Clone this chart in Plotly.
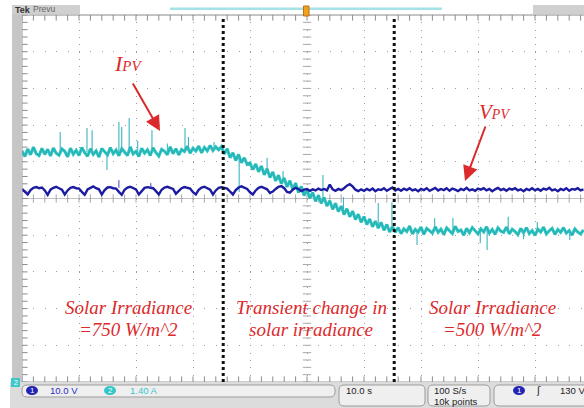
import numpy as np
import plotly.graph_objects as go

# ---------------- data ----------------
sample_dt = 0.5          # s between samples
time_per_div = 10.0      # s/div
volt_per_div = 10.0      # ch1, V/div
amp_per_div = 1.40       # ch2, A/div

# PV voltage, ch1 (V), one value every 0.5 s from t = 0 s
v_pv = [
    52.6, 51.9, 51.1, 52.3, 52.9, 53.1, 52.8, 53.0, 52.2, 51.0,
    52.4, 52.9, 53.2, 52.8, 52.4, 51.1, 52.2, 52.9, 53.1, 52.8,
    52.7, 51.8, 51.0, 52.5, 53.0, 53.3, 52.8, 52.5, 51.1, 52.3,
    53.0, 53.1, 52.8, 52.7, 51.8, 51.0, 52.4, 53.0, 53.2, 52.8,
    52.5, 51.1, 52.1, 52.9, 53.1, 52.9, 52.8, 52.0, 51.1, 52.4,
    53.0, 53.2, 52.8, 52.6, 51.3, 52.0, 52.8, 53.1, 52.9, 52.7,
    51.7, 51.1, 52.4, 53.0, 53.2, 52.8, 52.4, 51.1, 52.2, 52.9,
    53.1, 52.9, 52.7, 51.9, 51.1, 52.3, 53.0, 53.3, 52.9, 52.6,
    51.7, 51.1, 52.2, 52.9, 53.2, 52.9, 52.5, 51.5, 51.9, 52.6,
    53.2, 53.4, 52.8, 51.8, 51.6, 52.4, 52.9, 52.6, 52.0, 52.4,
    52.6, 52.1, 52.5, 52.2, 52.7, 52.3, 52.6, 52.2, 53.8, 52.5,
    52.1, 52.6, 52.3, 52.8, 53.5, 53.9, 53.3, 52.4, 52.0, 52.5,
    52.1, 52.6, 52.2, 52.7, 52.0, 52.5, 52.3, 52.8, 52.1, 52.6,
    53.0, 52.2, 52.6, 52.1, 52.7, 52.3, 52.8, 52.2, 52.5, 52.0,
    52.6, 52.3, 52.8, 52.1, 52.5, 52.9, 52.2, 52.6, 52.3, 52.8,
    52.1, 52.7, 52.4, 52.0, 52.6, 52.3, 52.9, 52.2, 52.5, 52.1,
    52.7, 52.4, 52.8, 52.2, 52.6, 52.0, 52.5, 52.9, 52.3, 52.6,
    52.1, 52.7, 52.4, 52.8, 52.2, 52.5, 52.0, 52.6, 52.3, 52.8,
    52.2, 52.6, 52.1, 52.7, 52.4, 52.9, 52.2, 52.5, 52.0, 52.6,
    52.3, 52.8, 52.1, 52.6, 52.4, 52.8, 52.2, 52.5,
]

# PV current, ch2 (A), one value every 0.5 s from t = 0 s
i_pv = [
    8.82, 8.60, 8.89, 8.67, 8.96, 8.71, 8.64, 8.91, 8.68, 8.88,
    8.62, 8.93, 8.73, 8.65, 8.89, 8.80, 8.59, 8.92, 8.69, 8.84,
    8.64, 8.95, 8.75, 8.61, 8.90, 8.68, 8.82, 8.58, 8.91, 8.79,
    8.66, 8.94, 8.71, 8.85, 8.63, 8.90, 8.77, 8.64, 8.97, 8.70,
    8.80, 8.60, 8.92, 8.73, 8.86, 8.64, 8.94, 8.75, 8.62, 8.88,
    8.80, 8.67, 8.97, 8.71, 8.90, 8.66, 8.87, 8.79, 8.99, 8.73,
    8.92, 8.81, 9.00, 8.74, 8.95, 8.82, 9.02, 8.83, 8.97, 8.86,
    8.98, 8.70, 8.90, 8.56, 8.74, 8.45, 8.68, 8.36, 8.55, 8.30,
    8.36, 8.10, 8.32, 8.02, 8.24, 7.90, 8.14, 7.80, 8.01, 7.67,
    7.89, 7.57, 7.78, 7.44, 7.68, 7.35, 7.59, 7.23, 7.46, 7.11,
    7.33, 7.01, 7.23, 6.89, 7.12, 6.82, 7.04, 6.71, 6.92, 6.59,
    6.82, 6.50, 6.71, 6.39, 6.61, 6.30, 6.52, 6.20, 6.40, 6.09,
    6.31, 6.01, 6.22, 5.92, 6.14, 5.87, 6.09, 5.79, 6.01, 5.72,
    5.92, 5.71, 5.89, 5.66, 5.84, 5.74, 5.95, 5.65, 5.82, 5.72,
    5.91, 5.63, 5.86, 5.77, 5.68, 5.92, 5.71, 5.83, 5.62, 5.88,
    5.75, 5.66, 5.94, 5.74, 5.80, 5.60, 5.86, 5.69, 5.89, 5.78,
    5.65, 5.84, 5.72, 5.92, 5.68, 5.82, 5.63, 5.88, 5.75, 5.71,
    5.91, 5.65, 5.83, 5.74, 5.62, 5.86, 5.69, 5.89, 5.66, 5.78,
    5.59, 5.83, 5.72, 5.91, 5.65, 5.77, 5.86, 5.63, 5.82, 5.71,
    5.89, 5.68, 5.78, 5.60, 5.84, 5.72, 5.65, 5.80,
]

# narrow glitches on the current trace: time (s), low (A), high (A)
i_spike_t = [6.7, 11.4, 12.3, 14.9, 17.0, 17.5, 18.8, 20.3, 22.8, 25.5,
             28.6, 29.2, 33.7, 38.1, 43.0, 45.8, 52.8, 56.4, 62.5, 64.9,
             69.3, 72.4, 75.6, 80.4, 81.6, 85.3, 88.0, 90.4, 96.1]
i_spike_lo = [8.77, 8.77, 8.77, 8.09, 8.77, 8.77, 8.77, 8.77, 8.77, 8.77,
              8.77, 8.77, 8.85, 7.25, 7.95, 7.70, 6.93, 6.55, 5.98, 5.85,
              5.23, 5.80, 5.80, 5.30, 5.04, 5.80, 5.45, 5.80, 5.42]
i_spike_hi = [9.54, 9.69, 9.60, 8.77, 9.92, 9.73, 10.07, 9.20, 9.61, 9.10,
              9.69, 9.35, 9.16, 8.55, 8.55, 8.05, 7.90, 7.05, 6.83, 6.86,
              5.80, 6.25, 6.26, 5.80, 5.80, 6.30, 5.80, 6.10, 5.80]
v_spike_t = [17.0, 22.6]
v_spike_lo = [52.9, 52.9]
v_spike_hi = [55.0, 54.2]

phase_bounds = [35.3, 65.3]   # dashed cursors (s)

region_line1 = ["Solar Irradiance", "Transient change in", "Solar Irradiance"]
region_line2 = ["=750 W/m^2", "solar irradiance", "=500 W/m^2"]

# ---------------- layout geometry (pixels) ----------------
W, H = 584, 408
L, T, B = 22, 15, 26
PW, PH = W - L, H - T - B
X_MAX = 10 * time_per_div * PW / 570.0   # screen is cropped on the right


def fx(px):
    return (px - L) / PW


def fy(py):
    return (H - B - py) / PH


t_v = np.arange(len(v_pv)) * sample_dt
t_i = np.arange(len(i_pv)) * sample_dt

fig = go.Figure()

grid_c = "#a9a9a9"
htick_x = np.arange(0, X_MAX, time_per_div / 5)
vtick_y = np.arange(0, 10 * amp_per_div + 1e-6, amp_per_div / 5)
mid_i = 5 * amp_per_div
fig.add_trace(go.Scatter(x=htick_x, y=[mid_i] * len(htick_x), mode="markers",
                         marker=dict(symbol="line-ns", size=6, line=dict(color=grid_c, width=1)),
                         hoverinfo="skip", showlegend=False, yaxis="y"))
fig.add_trace(go.Scatter(x=[50] * len(vtick_y), y=vtick_y, mode="markers",
                         marker=dict(symbol="line-ew", size=6, line=dict(color=grid_c, width=1)),
                         hoverinfo="skip", showlegend=False, yaxis="y"))
fig.add_trace(go.Scatter(x=[0] * len(vtick_y), y=vtick_y, mode="markers",
                         marker=dict(symbol="line-ew", size=8, line=dict(color="#8c8c8c", width=1)),
                         hoverinfo="skip", showlegend=False, yaxis="y"))
for yy in (0, 10 * amp_per_div):
    fig.add_trace(go.Scatter(x=htick_x, y=[yy] * len(htick_x), mode="markers",
                             marker=dict(symbol="line-ns", size=8, line=dict(color="#8c8c8c", width=1)),
                             hoverinfo="skip", showlegend=False, yaxis="y"))

# voltage trace (ch1)
fig.add_trace(go.Scatter(x=t_v, y=v_pv, mode="lines", yaxis="y2",
                         line=dict(color="#1c1ca0", width=2.4), hoverinfo="skip", showlegend=False))
vx, vy = [], []
for t, lo, hi in zip(v_spike_t, v_spike_lo, v_spike_hi):
    vx += [t, t, None]
    vy += [lo, hi, None]
fig.add_trace(go.Scatter(x=vx, y=vy, mode="lines", yaxis="y2",
                         line=dict(color="#4444c8", width=1), hoverinfo="skip", showlegend=False))

# current trace (ch2)
fig.add_trace(go.Scatter(x=t_i, y=i_pv, mode="lines", yaxis="y",
                         line=dict(color="#2ec4c4", width=3.0), hoverinfo="skip", showlegend=False))
fig.add_trace(go.Scatter(x=t_i, y=i_pv, mode="lines", yaxis="y",
                         line=dict(color="#1f8d8d", width=0.7), opacity=0.55,
                         hoverinfo="skip", showlegend=False))
sx, sy = [], []
for t, lo, hi in zip(i_spike_t, i_spike_lo, i_spike_hi):
    sx += [t, t, None]
    sy += [lo, hi, None]
fig.add_trace(go.Scatter(x=sx, y=sy, mode="lines", yaxis="y",
                         line=dict(color="#3bb6bf", width=1.1), hoverinfo="skip", showlegend=False))

shapes = []
shapes.append(dict(type="line", xref="paper", yref="y", x0=0, x1=1, y0=mid_i, y1=mid_i,
                   line=dict(color="#c2c2c2", width=1), layer="below"))
shapes.append(dict(type="line", xref="paper", yref="paper", x0=0, x1=0, y0=0, y1=1,
                   line=dict(color="#9a9a9a", width=1)))
shapes.append(dict(type="line", xref="paper", yref="paper", x0=0, x1=1, y0=1, y1=1,
                   line=dict(color="#8a8a8a", width=1)))
shapes.append(dict(type="line", xref="paper", yref="paper", x0=0, x1=1, y0=0, y1=0,
                   line=dict(color="#9a9a9a", width=1)))
for xb in phase_bounds:
    shapes.append(dict(type="line", xref="x", yref="paper", x0=xb, x1=xb, y0=0, y1=0.99,
                       line=dict(color="#111111", width=3, dash="3px,3px")))


def prect(x0, y0, x1, y1, fill, line=None):
    return dict(type="rect", xref="paper", yref="paper", x0=fx(x0), x1=fx(x1), y0=fy(y1), y1=fy(y0),
                fillcolor=fill, line=dict(width=0 if line is None else 1, color=line or fill))


def rrect(x0, y0, x1, y1, r, fill, line):
    def P(x, y):
        return f"{fx(x):.5f},{fy(y):.5f}"
    path = (f"M {P(x0 + r, y0)} L {P(x1 - r, y0)} Q {P(x1, y0)} {P(x1, y0 + r)} "
            f"L {P(x1, y1 - r)} Q {P(x1, y1)} {P(x1 - r, y1)} L {P(x0 + r, y1)} "
            f"Q {P(x0, y1)} {P(x0, y1 - r)} L {P(x0, y0 + r)} Q {P(x0, y0)} {P(x0 + r, y0)} Z")
    return dict(type="path", xref="paper", yref="paper", path=path, fillcolor=fill,
                line=dict(color=line, width=1))


def ellipse(cx, cy, rx, ry, fill):
    return dict(type="circle", xref="paper", yref="paper", x0=fx(cx - rx), x1=fx(cx + rx),
                y0=fy(cy + ry), y1=fy(cy - ry), fillcolor=fill, line=dict(width=0))


shapes.append(prect(12, 14, 22, 382, "#c6c6c6"))
shapes.append(prect(10, 382, 584, 408, "#dcdcdc"))
shapes.append(prect(12, 5, 80, 14, "#d0d0d0"))
shapes.append(prect(533, 5, 584, 14, "#d0d0d0"))
shapes.append(prect(170, 7.5, 442, 10, "#a4e2e8"))
shapes.append(prect(303.5, 6, 309, 16, "#f2a11f", "#c07010"))
shapes.append(rrect(22, 385, 335, 397, 5, "#efefef", "#9c9c9c"))
shapes.append(rrect(339, 385, 425, 406, 5, "#efefef", "#9c9c9c"))
shapes.append(rrect(428, 385, 490, 406, 5, "#efefef", "#9c9c9c"))
shapes.append(rrect(494, 385, 600, 406, 5, "#efefef", "#9c9c9c"))
shapes.append(ellipse(32, 390.5, 6, 4.5, "#2323b4"))
shapes.append(ellipse(110, 390.5, 6, 4.5, "#33c6c8"))
shapes.append(ellipse(519, 390.5, 6, 4.5, "#2323b4"))
shapes.append(prect(11, 378, 20, 387, "#3fc8cc"))

annotations = []


def txt(x, y, s, size, color, family="Liberation Sans", xanchor="left", **kw):
    annotations.append(dict(x=fx(x), y=fy(y), xref="paper", yref="paper", text=s, showarrow=False,
                            xanchor=xanchor, yanchor="middle",
                            font=dict(size=size, color=color, family=family), **kw))


txt(13, 9.5, "<b>Tek</b>", 9, "#333333")
txt(31, 9.2, "Prevu", 8.5, "#666666")
txt(32, 390.5, "1", 8, "#ffffff", xanchor="center")
txt(48, 390.5, "10.0 V", 9.5, "#2b2bc8")
txt(110, 390.5, "2", 8, "#ffffff", xanchor="center")
txt(128, 390.5, "1.40 A", 9.5, "#3cc4d0")
txt(344, 390.5, "10.0 s", 9.5, "#222222")
txt(432, 390, "100 S/s", 9.5, "#222222")
txt(432, 401, "10k points", 9.5, "#222222")
txt(519, 390.5, "1", 8, "#ffffff", xanchor="center")
txt(534, 390, "ʃ", 10, "#222222", family="DejaVu Sans")
txt(558, 390.5, "130 V", 9.5, "#222222")
txt(15.5, 382.5, "2", 7, "#ffffff", xanchor="center")

red = "#dc2a2c"
serif = "Liberation Serif"
for cx, l1, l2 in zip([128, 311, 492], region_line1, region_line2):
    txt(cx, 307, f"<i>{l1}</i>", 19, red, family=serif, xanchor="center")
    txt(cx, 329, f"<i>{l2}</i>", 19, red, family=serif, xanchor="center")

txt(128, 63, "<i>I<span style='font-size:15px'>PV</span></i>", 22, red, family=serif, xanchor="center")
txt(494, 112, "<i>V<span style='font-size:14px'>PV</span></i>", 21, red, family=serif, xanchor="center")

for (tipx, tipy, tailx, taily) in [(160, 131, 132, 82), (465, 181, 486, 125)]:
    annotations.append(dict(x=fx(tipx), y=fy(tipy), xref="paper", yref="paper", text="",
                            showarrow=True, ax=tailx - tipx, ay=taily - tipy, axref="pixel", ayref="pixel",
                            arrowhead=2, arrowsize=1.5, arrowwidth=2, arrowcolor=red, standoff=0))

fig.update_layout(
    width=W, height=H,
    margin=dict(l=L, r=0, t=T, b=B),
    paper_bgcolor="#ffffff", plot_bgcolor="#ffffff",
    showlegend=False,
    xaxis=dict(range=[0, X_MAX], tick0=0, dtick=time_per_div, showgrid=True,
               gridcolor="#9c9c9c", gridwidth=1, griddash="1px,6.34px",
               zeroline=False, showticklabels=False, ticks="", showline=False, fixedrange=True),
    yaxis=dict(range=[0, 10 * amp_per_div], tick0=0, dtick=amp_per_div, showgrid=True,
               gridcolor="#9c9c9c", gridwidth=1, griddash="1px,10.4px",
               zeroline=False, showticklabels=False, ticks="", showline=False, fixedrange=True),
    yaxis2=dict(range=[0, 10 * volt_per_div], overlaying="y", showgrid=False, zeroline=False,
                showticklabels=False, ticks="", showline=False, fixedrange=True),
    shapes=shapes,
    annotations=annotations,
)

fig.write_html("out.html", config={"displayModeBar": False},
               post_script="document.body.style.margin='0';document.body.style.padding='0';"
                           "document.body.style.overflow='hidden';")
